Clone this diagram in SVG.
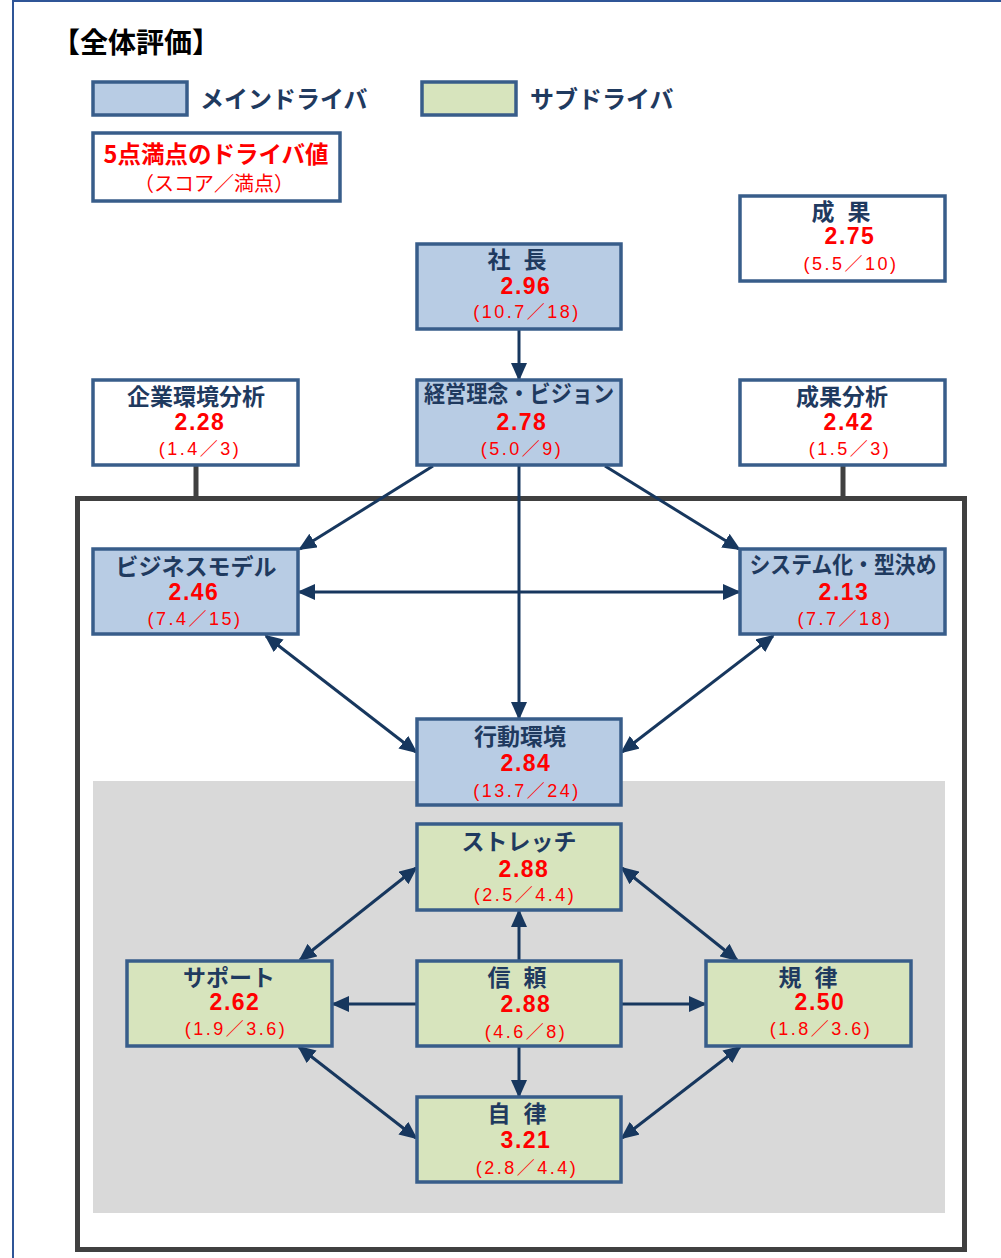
<svg xmlns="http://www.w3.org/2000/svg" width="1001" height="1258" viewBox="0 0 1001 1258">
<style>
.main{fill:#b8cce4;stroke:#385d8a;stroke-width:3.5}
.sub{fill:#d7e4bd;stroke:#385d8a;stroke-width:3.5}
.plain{fill:#ffffff;stroke:#385d8a;stroke-width:3.5}
.lbl{font-family:"Noto Sans CJK JP","Liberation Sans",sans-serif;font-weight:bold;font-size:23px;fill:#1f3a5f;text-anchor:middle}
.val{font-family:"Liberation Sans","Noto Sans CJK JP",sans-serif;font-weight:bold;font-size:23px;fill:#ff0000;text-anchor:middle;letter-spacing:1.5px}
.frac{font-family:"Liberation Sans","Noto Sans CJK JP",sans-serif;font-size:18px;fill:#ff0000;text-anchor:middle;letter-spacing:2.5px}
.conn{stroke:#17375e;stroke-width:3;fill:none}
.stub{stroke:#404040;stroke-width:5;fill:none}
</style>
<defs>
<marker id="ah" viewBox="0 0 18 16" refX="16" refY="8" markerWidth="18" markerHeight="16" markerUnits="userSpaceOnUse" orient="auto-start-reverse">
<path d="M0,0 L18,8 L0,16 z" fill="#17375e"/>
</marker>
</defs>
<rect x="0" y="0" width="1001" height="1258" fill="#ffffff"/>
<rect x="13" y="1" width="1010" height="1300" fill="none" stroke="#2f5597" stroke-width="2"/>

<g id="title">
<text x="52" y="53" font-family="Noto Sans CJK JP,sans-serif" font-weight="bold" font-size="28" fill="#000000">【全体評価】</text>
</g>

<g id="legend">
<rect x="93" y="82" width="94" height="33" class="main"/>
<text x="200" y="108" font-family="Noto Sans CJK JP,sans-serif" font-weight="bold" font-size="24" fill="#1f3a5f">メインドライバ</text>
<rect x="422" y="82" width="94" height="33" class="sub"/>
<text x="530" y="108" font-family="Noto Sans CJK JP,sans-serif" font-weight="bold" font-size="24" fill="#1f3a5f">サブドライバ</text>
<rect x="93" y="133" width="247" height="68" class="plain"/>
<text x="216" y="163" font-family="Noto Sans CJK JP,sans-serif" font-weight="bold" font-size="23.5" fill="#ff0000" text-anchor="middle">5点満点のドライバ値</text>
<text x="214" y="191" font-family="Noto Sans CJK JP,sans-serif" font-size="20" fill="#ff0000" text-anchor="middle">（スコア／満点）</text>
</g>

<g id="background">
<rect x="93" y="781" width="852" height="432" fill="#d9d9d9"/>
<rect x="77.5" y="498.5" width="887" height="751" fill="none" stroke="#404040" stroke-width="5"/>
</g>

<g id="connectors">
<line class="stub" x1="196" y1="465" x2="196" y2="498"/>
<line class="stub" x1="843" y1="465" x2="843" y2="498"/>
<path class="conn" d="M519,330 L519,379" marker-end="url(#ah)"/>
<path class="conn" d="M433,466 L300,549" marker-end="url(#ah)"/>
<path class="conn" d="M605,466 L739,549" marker-end="url(#ah)"/>
<path class="conn" d="M519,466 L519,718" marker-end="url(#ah)"/>
<path class="conn" d="M299,592 L739,592" marker-start="url(#ah)" marker-end="url(#ah)"/>
<path class="conn" d="M266,636 L416,752" marker-start="url(#ah)" marker-end="url(#ah)"/>
<path class="conn" d="M773,636 L622,752" marker-start="url(#ah)" marker-end="url(#ah)"/>
<path class="conn" d="M519,960 L519,911" marker-end="url(#ah)"/>
<path class="conn" d="M416,1004 L333,1004" marker-end="url(#ah)"/>
<path class="conn" d="M622,1004 L705,1004" marker-end="url(#ah)"/>
<path class="conn" d="M519,1047 L519,1096" marker-end="url(#ah)"/>
<path class="conn" d="M416,868 L300,960" marker-start="url(#ah)" marker-end="url(#ah)"/>
<path class="conn" d="M622,868 L737,960" marker-start="url(#ah)" marker-end="url(#ah)"/>
<path class="conn" d="M299,1047 L416,1138" marker-start="url(#ah)" marker-end="url(#ah)"/>
<path class="conn" d="M740,1047 L622,1138" marker-start="url(#ah)" marker-end="url(#ah)"/>
</g>

<g id="seika">
<rect x="740" y="196" width="205" height="85" class="plain"/>
<text x="843" y="220" class="lbl" letter-spacing="4">成 果</text>
<text x="850" y="244" class="val">2.75</text>
<text x="851" y="270" class="frac">(5.5／10)</text>
</g>

<g id="shacho">
<rect x="417" y="244" width="204" height="85" class="main"/>
<text x="519" y="268" class="lbl" letter-spacing="4">社 長</text>
<text x="526" y="294" class="val">2.96</text>
<text x="527" y="318" class="frac">(10.7／18)</text>
</g>

<g id="keiei">
<rect x="417" y="380" width="204" height="85" class="main"/>
<text x="519" y="402" class="lbl" textLength="190" lengthAdjust="spacingAndGlyphs">経営理念・ビジョン</text>
<text x="522" y="430" class="val">2.78</text>
<text x="522" y="455" class="frac">(5.0／9)</text>
</g>

<g id="kigyo">
<rect x="93" y="380" width="205" height="85" class="plain"/>
<text x="196" y="405" class="lbl">企業環境分析</text>
<text x="200" y="430" class="val">2.28</text>
<text x="200" y="455" class="frac">(1.4／3)</text>
</g>

<g id="seikabunseki">
<rect x="740" y="380" width="205" height="85" class="plain"/>
<text x="842" y="405" class="lbl">成果分析</text>
<text x="849" y="430" class="val">2.42</text>
<text x="850" y="455" class="frac">(1.5／3)</text>
</g>

<g id="business">
<rect x="93" y="549" width="205" height="85" class="main"/>
<text x="196" y="575" class="lbl">ビジネスモデル</text>
<text x="194" y="600" class="val">2.46</text>
<text x="195" y="625" class="frac">(7.4／15)</text>
</g>

<g id="system">
<rect x="740" y="549" width="205" height="85" class="main"/>
<text x="843" y="573" class="lbl" textLength="187" lengthAdjust="spacingAndGlyphs">システム化・型決め</text>
<text x="844" y="600" class="val">2.13</text>
<text x="845" y="625" class="frac">(7.7／18)</text>
</g>

<g id="kodo">
<rect x="417" y="719" width="204" height="86" class="main"/>
<text x="520" y="745" class="lbl">行動環境</text>
<text x="526" y="771" class="val">2.84</text>
<text x="527" y="797" class="frac">(13.7／24)</text>
</g>

<g id="stretch">
<rect x="417" y="824" width="204" height="86" class="sub"/>
<text x="519" y="850" class="lbl">ストレッチ</text>
<text x="524" y="877" class="val">2.88</text>
<text x="525" y="901" class="frac">(2.5／4.4)</text>
</g>

<g id="support">
<rect x="127" y="961" width="205" height="85" class="sub"/>
<text x="229" y="986" class="lbl">サポート</text>
<text x="235" y="1010" class="val">2.62</text>
<text x="236" y="1035" class="frac">(1.9／3.6)</text>
</g>

<g id="shinrai">
<rect x="417" y="961" width="204" height="85" class="sub"/>
<text x="519" y="986" class="lbl" letter-spacing="4">信 頼</text>
<text x="526" y="1012" class="val">2.88</text>
<text x="526" y="1038" class="frac">(4.6／8)</text>
</g>

<g id="kiritsu">
<rect x="706" y="961" width="205" height="85" class="sub"/>
<text x="810" y="986" class="lbl" letter-spacing="4">規 律</text>
<text x="820" y="1010" class="val">2.50</text>
<text x="821" y="1035" class="frac">(1.8／3.6)</text>
</g>

<g id="jiritsu">
<rect x="417" y="1097" width="204" height="85" class="sub"/>
<text x="519" y="1122" class="lbl" letter-spacing="4">自 律</text>
<text x="526" y="1148" class="val">3.21</text>
<text x="527" y="1174" class="frac">(2.8／4.4)</text>
</g>
</svg>
